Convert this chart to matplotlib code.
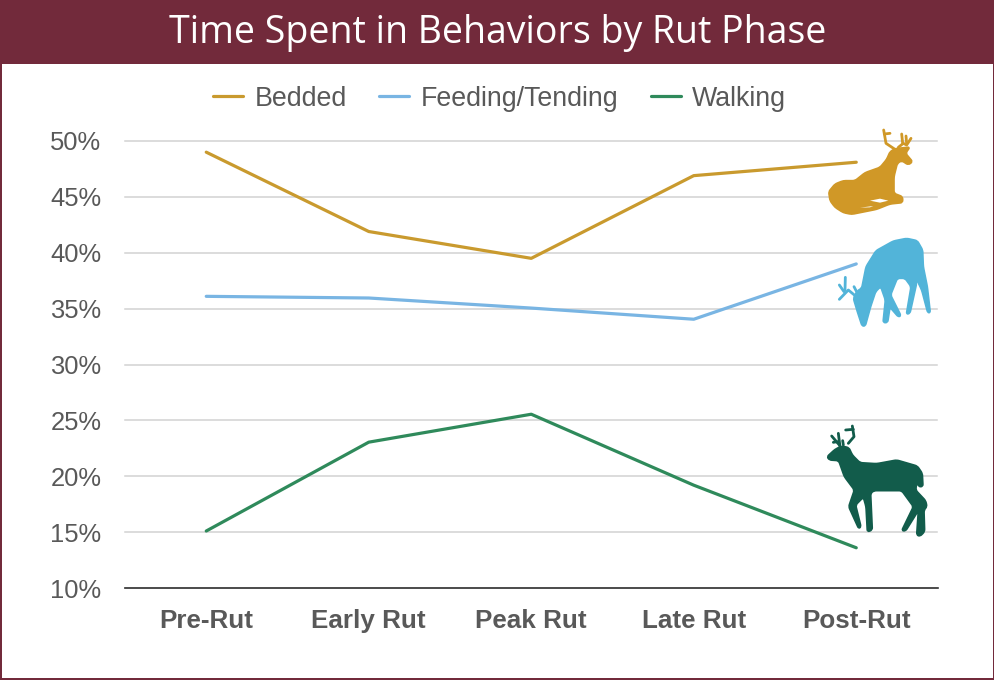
import matplotlib
matplotlib.use("Agg")
import math
import matplotlib.pyplot as plt
from matplotlib.patches import PathPatch, Polygon, Rectangle
from matplotlib.path import Path
from matplotlib.ticker import FuncFormatter

categories = ["Pre-Rut", "Early Rut", "Peak Rut", "Late Rut", "Post-Rut"]
bedded = [49.0, 41.9, 39.5, 46.9, 48.1]
feeding = [36.1, 35.95, 35.05, 34.05, 39.0]
walking = [15.1, 23.05, 25.55, 19.2, 13.6]
yticks = [10, 15, 20, 25, 30, 35, 40, 45, 50]
title = "Time Spent in Behaviors by Rut Phase"

GOLD, BLUE, GREEN = "#C99A2E", "#79B5E3", "#2F8A5B"
DEER_GOLD, DEER_BLUE, DEER_GREEN = "#D09827", "#52B4D9", "#125C4B"
MAROON, GREY = "#722A3B", "#595959"
W, H = 995, 680

fig = plt.figure(figsize=(W / 100, H / 100), dpi=100, facecolor="white")
plt.rcParams["font.family"] = ["Liberation Sans", "DejaVu Sans"]

# Chart axes
ax = fig.add_axes([125 / W, 1 - 588 / H, (937.5 - 125) / W, (588 - 141) / H])
ax.plot(categories, bedded, color=GOLD, lw=2.3, label="Bedded", solid_capstyle="round")
ax.plot(categories, feeding, color=BLUE, lw=2.3, label="Feeding/Tending", solid_capstyle="round")
ax.plot(categories, walking, color=GREEN, lw=2.3, label="Walking", solid_capstyle="round")
ax.set_xlim(-0.5, 4.5)
ax.set_ylim(10, 50)
ax.set_yticks(yticks)
ax.yaxis.set_major_formatter(FuncFormatter(lambda v, _: f"{v:.0f}%"))
ax.grid(axis="y", color="#D2D2D2", lw=1.1)
for gl in ax.get_ygridlines():
    gl.set_clip_on(False)
ax.set_axisbelow(True)
for s in ["top", "left", "right"]:
    ax.spines[s].set_visible(False)
ax.spines["bottom"].set_color("#333333")
ax.spines["bottom"].set_linewidth(1.2)
ax.tick_params(axis="both", length=0)
ax.tick_params(axis="y", labelsize=18.4, labelcolor=GREY, pad=17)
ax.tick_params(axis="x", labelsize=18.7, labelcolor=GREY, pad=15)
for t in ax.get_xticklabels():
    t.set_fontweight("bold")

fig.legend(*ax.get_legend_handles_labels(), loc="center", bbox_to_anchor=(499.5 / W, 1 - 98.5 / H),
           ncol=3, frameon=False, fontsize=19.3, labelcolor=GREY, handlelength=1.14,
           handletextpad=0.42, columnspacing=1.2, borderpad=0, borderaxespad=0)

# Overlay in pixel coordinates for the header, the frame and the deer pictures
ov = fig.add_axes([0, 0, 1, 1], facecolor="none")
ov.set_xlim(0, W)
ov.set_ylim(H, 0)
ov.axis("off")
ov.add_patch(Rectangle((0, 0), W, 64, color=MAROON, lw=0))
ov.add_patch(Rectangle((0, 0), 2.4, H, color=MAROON, lw=0))
ov.add_patch(Rectangle((W - 2.4, 0), 2.4, H, color=MAROON, lw=0))
ov.add_patch(Rectangle((0, H - 2), W, 2, color=MAROON, lw=0))
ov.text(497.5, 33, title, color="white", ha="center", va="center", fontsize=27, family="Open Sans")


def rounded(pts, r=2.5):
    """Closed outline whose corners are rounded over a short distance."""
    n = len(pts)
    verts, codes = [], []
    for i in range(n):
        p0, p1, p2 = pts[i - 1], pts[i], pts[(i + 1) % n]
        d0 = math.dist(p0, p1)
        d2 = math.dist(p1, p2)
        t0 = min(r, d0 / 2) / d0
        t2 = min(r, d2 / 2) / d2
        a = (p1[0] + (p0[0] - p1[0]) * t0, p1[1] + (p0[1] - p1[1]) * t0)
        b = (p1[0] + (p2[0] - p1[0]) * t2, p1[1] + (p2[1] - p1[1]) * t2)
        verts += [a, p1, b]
        codes += [Path.MOVETO if i == 0 else Path.LINETO, Path.CURVE3, Path.CURVE3]
    verts.append(verts[0])
    codes.append(Path.CLOSEPOLY)
    return Path(verts, codes)


def deer(body, antlers, ox, oy, color, gaps=()):
    to_px = lambda pts: [(ox + x / 3, oy + y / 3) for x, y in pts]
    ov.add_patch(PathPatch(rounded(to_px(body)), fc=color, ec=color, lw=1.2, joinstyle="round", zorder=5))
    for a in antlers:
        xs, ys = zip(*to_px(a))
        ov.plot(xs, ys, color=color, lw=2.0, solid_capstyle="round", solid_joinstyle="round", zorder=5)
    for g in gaps:
        ov.add_patch(Polygon(to_px(g), closed=True, fc="white", ec="none", zorder=6))


deer([(146, 245), (165, 222), (190, 212), (225, 212), (255, 188), (300, 172), (320, 148), (330, 125),
      (345, 116), (390, 111), (377, 130), (398, 155), (385, 165), (365, 152), (352, 160), (342, 200),
      (342, 250), (368, 260), (368, 278), (330, 282), (290, 298), (215, 313), (190, 308), (165, 292), (150, 272)],
     [[(345, 118), (318, 100), (311, 60)], [(313, 72), (330, 70)], [(355, 112), (370, 100), (380, 105), (393, 85)],
      [(365, 72), (368, 100)], [(378, 78), (380, 102)]],
     780, 110, DEER_GOLD,
     gaps=[[(270, 272), (300, 266), (325, 272), (300, 278)], [(240, 293), (280, 288), (270, 292)]])

deer([(246, 648), (232, 605), (220, 565), (232, 542), (245, 535), (258, 470), (288, 422), (340, 393), (380, 385),
      (412, 392), (428, 420), (430, 470), (442, 530), (451, 608), (443, 608), (425, 540), (402, 492), (410, 520),
      (390, 610), (379, 613), (393, 530), (375, 505), (352, 505), (332, 555), (363, 617), (355, 621), (330, 592),
      (323, 638), (309, 638), (316, 570), (302, 530), (287, 545), (272, 590), (256, 648)],
     [[(235, 565), (205, 540), (178, 568)], [(196, 502), (195, 540)], [(178, 525), (192, 545)], [(222, 530), (235, 555)]],
     780, 110, DEER_BLUE)

deer([(141, 140), (165, 118), (185, 108), (207, 113), (217, 135), (240, 158), (290, 161), (350, 150), (412, 168),
      (427, 190), (429, 230), (415, 230), (412, 210), (407, 240), (437, 272), (441, 290), (432, 300), (434, 365),
      (420, 379), (410, 375), (415, 302), (377, 363), (365, 362), (400, 290), (365, 242), (282, 242), (272, 250),
      (277, 360), (262, 366), (258, 290), (250, 262), (227, 285), (243, 350), (236, 356), (206, 290), (223, 240),
      (193, 200), (176, 152), (148, 150)],
     [[(205, 100), (222, 80), (217, 48)], [(197, 60), (220, 58)], [(180, 110), (175, 70)], [(178, 105), (155, 78)],
      [(172, 95), (160, 97)], [(190, 105), (188, 92)]],
     780, 410, DEER_GREEN)

fig.savefig("out.png", dpi=100)
